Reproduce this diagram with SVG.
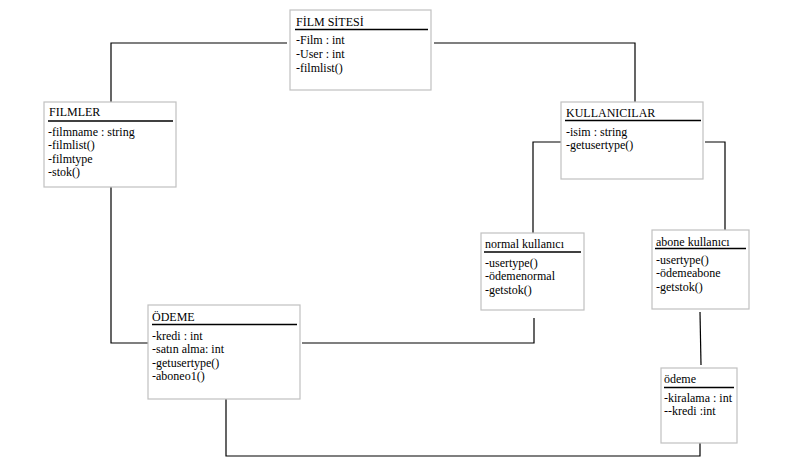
<svg xmlns="http://www.w3.org/2000/svg" width="803" height="463" viewBox="0 0 803 463">
<style>
.box{fill:#fff;stroke:#c0c0c0;stroke-width:1.2}
.ul{stroke:#000;stroke-width:1.3}
.t{font-family:"Liberation Serif","Times New Roman",serif;font-size:12px;fill:#000}
.c{fill:none;stroke:#000;stroke-width:1.2}
</style>
<rect width="803" height="463" fill="#fff"/>
<g id="connectors">
<polyline class="c" points="287,43 111,43 111,102"/>
<polyline class="c" points="434,43 635,43 635,102"/>
<polyline class="c" points="111,180 111,343 148,343"/>
<polyline class="c" points="561,142 533,142 533,233"/>
<polyline class="c" points="705,142 725,142 725,230"/>
<polyline class="c" points="302,343 534,343 534,318"/>
<line class="c" x1="700" y1="312" x2="701" y2="365"/>
<polyline class="c" points="226,382 226,456 700,456 700,443"/>
</g>
<g id="filmsitesi">
<rect class="box" x="290" y="10" width="141" height="80"/>
<line class="ul" x1="295" y1="29.5" x2="428" y2="29.5"/>
<text class="t" x="296" y="26">FİLM SİTESİ</text>
<text class="t" x="296" y="44">-Film : int</text>
<text class="t" x="296" y="57.5">-User : int</text>
<text class="t" x="296" y="71.5">-filmlist()</text>
</g>
<g id="filmler">
<rect class="box" x="44" y="102" width="132" height="85"/>
<line class="ul" x1="48" y1="121" x2="173" y2="121"/>
<text class="t" x="49" y="116">FILMLER</text>
<text class="t" x="48" y="135.5">-filmname : string</text>
<text class="t" x="48" y="149">-filmlist()</text>
<text class="t" x="48" y="162.5">-filmtype</text>
<text class="t" x="48" y="176">-stok()</text>
</g>
<g id="kullanicilar">
<rect class="box" x="561" y="102" width="142" height="77"/>
<line class="ul" x1="565" y1="120.5" x2="701" y2="120.5"/>
<text class="t" x="566" y="116.5">KULLANICILAR</text>
<text class="t" x="566" y="135.5">-isim : string</text>
<text class="t" x="566" y="149">-getusertype()</text>
</g>
<g id="normalkullanici">
<rect class="box" x="481" y="233" width="103" height="77"/>
<line class="ul" x1="484" y1="252" x2="581" y2="252"/>
<text class="t" x="485" y="248">normal kullanıcı</text>
<text class="t" x="485" y="266.5">-usertype()</text>
<text class="t" x="485" y="280">-ödemenormal</text>
<text class="t" x="485" y="293.5">-getstok()</text>
</g>
<g id="abonekullanici">
<rect class="box" x="652" y="230" width="97" height="79"/>
<line class="ul" x1="655" y1="248.5" x2="746" y2="248.5"/>
<text class="t" x="656" y="245.5">abone kullanıcı</text>
<text class="t" x="656" y="263.5">-usertype()</text>
<text class="t" x="656" y="277">-ödemeabone</text>
<text class="t" x="656" y="290.5">-getstok()</text>
</g>
<g id="odeme-main">
<rect class="box" x="148" y="305" width="152" height="94"/>
<line class="ul" x1="152" y1="324.5" x2="297" y2="324.5"/>
<text class="t" x="152" y="321">ÖDEME</text>
<text class="t" x="152" y="339.5">-kredi : int</text>
<text class="t" x="152" y="353">-satın alma: int</text>
<text class="t" x="152" y="366.5">-getusertype()</text>
<text class="t" x="152" y="380">-aboneo1()</text>
</g>
<g id="odeme-sub">
<rect class="box" x="661" y="368" width="76" height="75"/>
<line class="ul" x1="664" y1="387.5" x2="734" y2="387.5"/>
<text class="t" x="664" y="383">ödeme</text>
<text class="t" x="664" y="401.5">-kiralama : int</text>
<text class="t" x="664" y="414.5">--kredi :int</text>
</g>
</svg>
